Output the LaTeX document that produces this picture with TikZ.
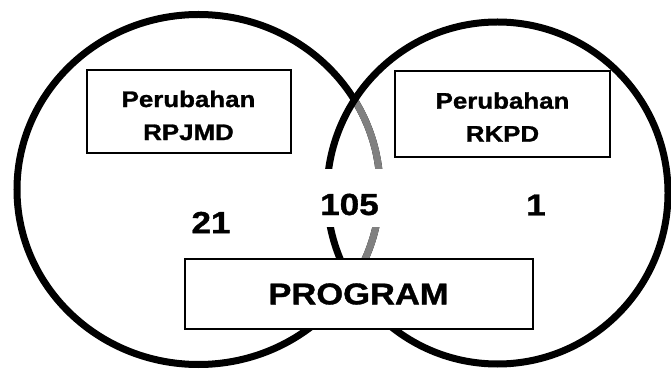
\documentclass[tikz,border=0pt]{standalone}
\usepackage{fontspec}
\newfontfamily\wfont{Liberation Sans Bold}[FakeStretch=1.15, FakeBold=1.2]
\definecolor{ringgray}{HTML}{808080}
\begin{document}
\begin{tikzpicture}[x=1pt,y=-1pt,
  ring/.style={line width=7pt, draw=black},
  labelbox/.style={draw=black, line width=1.5pt, fill=white, inner sep=0pt},
  labeltext/.style={font=\wfont\fontsize{22.5}{33}\selectfont, align=center, inner sep=0pt},
  numtext/.style={font=\wfont\fontsize{30.5}{36}\selectfont, inner sep=0pt},
  progtext/.style={font=\wfont\fontsize{30}{36}\selectfont, inner sep=0pt}]
\useasboundingbox (0,0) rectangle (671,371);
% left ellipse
\draw[ring] (198.5,189.5) ellipse [x radius=181.5, y radius=175];
% part of left ellipse inside right ellipse in gray
\begin{scope}
  \clip (497.5,193) ellipse [x radius=170.5, y radius=171];
  \draw[ring, draw=ringgray] (198.5,189.5) ellipse [x radius=181.5, y radius=175];
\end{scope}
% right ellipse
\draw[ring] (497.5,193) ellipse [x radius=170.5, y radius=171];
% boxes
\node[labelbox, minimum width=204pt, minimum height=83pt] (rpjmdbox) at (189,111.5) {};
\node[labeltext] (rpjmd) at (188.5,115.5) {Perubahan\\RPJMD};
\node[labelbox, minimum width=215pt, minimum height=86pt] (rkpdbox) at (502.5,114) {};
\node[labeltext] (rkpd) at (502.5,117) {Perubahan\\RKPD};
% numbers
\node[numtext] (n21) at (211,222.5) {21};
\node[numtext, fill=white, anchor=base, text height=46pt, text depth=12pt, inner xsep=5pt] (n105) at (349.5,215) {105};
\node[numtext] (n1) at (536,205) {1};
% program box
\node[labelbox, minimum width=348pt, minimum height=70pt] (programbox) at (359,294) {};
\node[progtext] (program) at (358.5,294) {PROGRAM};
\end{tikzpicture}
\end{document}
